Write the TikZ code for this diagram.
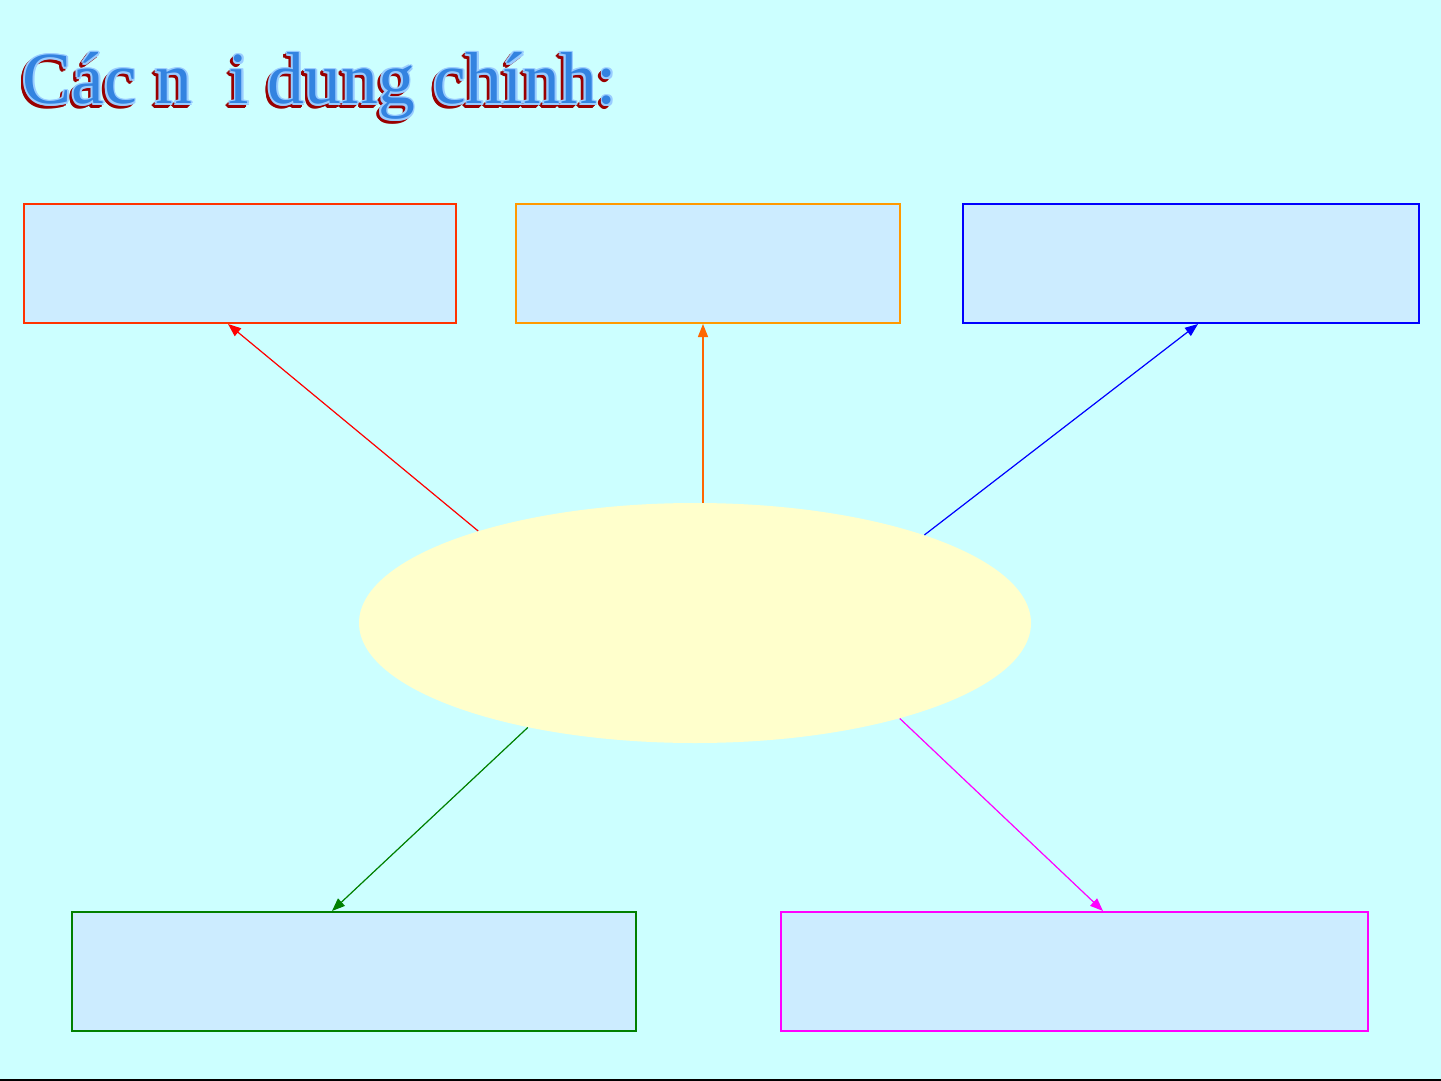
\documentclass[tikz,border=0pt]{standalone}
\usepackage{fontspec}
\setmainfont{Liberation Serif}
\usetikzlibrary{shapes.geometric,arrows.meta,calc}
\definecolor{bgc}{HTML}{CCFFFF}
\definecolor{boxfill}{HTML}{CCECFF}
\definecolor{ellfill}{HTML}{FFFFCC}
\definecolor{cred}{HTML}{FF3300}
\definecolor{cora}{HTML}{FF9900}
\definecolor{corarrow}{HTML}{FF6600}
\definecolor{cblue}{HTML}{0000FF}
\definecolor{cgreen}{HTML}{008000}
\definecolor{cmag}{HTML}{FF00FF}
\definecolor{tlight}{HTML}{99CCFF}
\definecolor{tcore}{HTML}{3383E0}
\definecolor{tshadow}{HTML}{990000}
\newcommand{\ttltext}{Các n\phantom{o}i dung chính:}
\tikzset{
  infobox/.style={draw, fill=boxfill, line width=1pt, minimum height=59.5pt, inner sep=0pt},
  conn/.style={line width=0.6pt, -{Triangle[length=6.5pt,width=5pt]}},
  ttl/.style={anchor=base west, inner sep=0pt, font=\fontsize{36.8}{42}\selectfont}
}
\begin{document}
\begin{tikzpicture}[x=0.5pt,y=-0.5pt]
\fill[bgc] (0,0) rectangle (1441,1081);
\useasboundingbox (0,0) rectangle (1441,1081);
% title with shadow and outline
\foreach \a in {0,45,...,315}{
  \node[ttl, text=tshadow, xshift={-1.3pt+0.85pt*cos(\a)}, yshift={-1.3pt+0.85pt*sin(\a)}] at (22,104) {\ttltext};
}
\foreach \a in {0,45,...,315}{
  \node[ttl, text=tlight, xshift={0.9pt*cos(\a)}, yshift={0.9pt*sin(\a)}] at (22,104) {\ttltext};
}
\node[ttl, text=tcore] (title) at (22,104) {\ttltext};
% boxes
\node[infobox, draw=cred, minimum width=216pt] (b1) at (240,263.5) {};
\node[infobox, draw=cora, minimum width=192pt] (b2) at (708,263.5) {};
\node[infobox, draw=cblue, minimum width=228pt] (b3) at (1191,263.5) {};
\node[infobox, draw=cgreen, minimum width=282pt] (b4) at (354,971.5) {};
\node[infobox, draw=cmag, minimum width=293.5pt] (b5) at (1074.5,971.5) {};
% ellipse
\node[ellipse, fill=ellfill, minimum width=336pt, minimum height=120pt, inner sep=0pt] (e) at (695,623) {};
% connector targets
\coordinate (t1) at ($(b1.south west)+(205,0)$);
\coordinate (t2) at ($(b2.south west)+(188,0)$);
\coordinate (t3) at ($(b3.south west)+(236,0)$);
\coordinate (t4) at ($(b4.north west)+(261,0)$);
\coordinate (t5) at ($(b5.north west)+(323,0)$);
% connectors
\draw[conn, draw=red, fill=red] (e.157) -- (t1);
\draw[conn, draw=corarrow, fill=corarrow] (e.north -| t2) -- (t2);
\draw[conn, draw=cblue, fill=cblue] (e.21.2) -- (t3);
\draw[conn, draw=cgreen, fill=cgreen] (e.212) -- (t4);
\draw[conn, draw=cmag, fill=cmag] (e.335.2) -- (t5);
% bottom line
\draw[line width=1pt] (0,1080) -- (1441,1080);
\end{tikzpicture}
\end{document}
